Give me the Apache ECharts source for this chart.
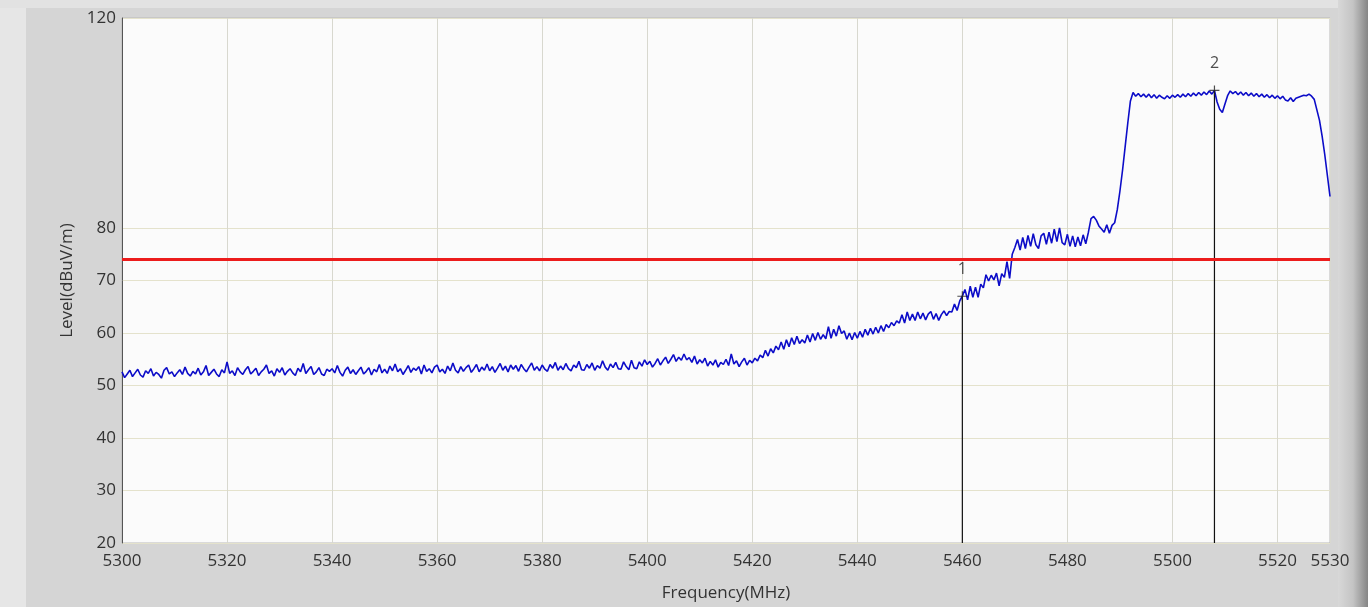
<!DOCTYPE html>
<html>
<head>
<meta charset="utf-8">
<title>Spectrum scan</title>
<script src="https://cdn.jsdelivr.net/npm/echarts@6/dist/echarts.min.js"></script>
<style>
  html, body { margin: 0; padding: 0; background: #d5d5d5; }
  #chart { width: 1368px; height: 607px; }
</style>
</head>
<body>
<div id="chart"></div>
<script>
// sweep: 5300 MHz start, 0.5 MHz step
const freqStart = 5300;
const freqStep = 0.5;

// 5300 - 5400 MHz, noise floor
const levelsFloor = [
  52.6, 51.5, 52.2, 52.9, 51.7, 52.4, 53.1, 52.0, 51.6, 52.8,
  52.3, 53.2, 51.8, 52.5, 52.1, 51.4, 52.9, 53.4, 52.2, 52.6,
  51.7, 52.4, 53.0, 52.1, 53.5, 52.3, 51.8, 52.7, 52.2, 53.3,
  52.0, 52.6, 53.8, 51.9, 52.5, 53.1, 52.2, 51.7, 53.0, 52.4,
  54.5, 52.3, 52.8, 51.9, 53.4, 52.6, 52.1, 53.0, 53.6, 52.2,
  52.7, 53.3, 51.9, 52.6, 53.1, 53.9, 52.3, 52.8, 51.8, 53.2,
  52.5, 53.4, 52.0, 52.7, 53.2, 52.4, 51.9, 53.3, 52.6, 54.2,
  52.3, 53.0, 53.6, 52.1, 52.6, 53.4, 52.2, 51.9, 53.1, 52.7,
  53.2, 52.4, 53.8, 52.5, 51.8, 52.9, 53.5, 52.3, 53.0, 52.1,
  52.8, 53.5, 52.2, 52.7, 53.4, 52.0, 53.1, 52.6, 54.0, 52.4,
  53.1, 52.3, 53.7, 52.8, 54.1, 52.6, 53.2, 52.1, 52.9, 53.8,
  52.5, 53.3, 52.9, 53.6, 52.2, 53.9, 52.7, 53.2, 52.4, 53.5,
  53.9, 52.6, 53.1, 52.3, 53.7, 52.8, 54.3, 52.9, 52.4, 53.6,
  52.7, 53.4, 53.9, 52.5, 53.2, 54.0, 52.6, 53.5, 52.9, 54.1,
  52.8, 53.6, 52.5, 53.3, 54.2, 52.9, 53.7, 52.6, 53.9, 53.1,
  53.8, 52.7, 54.0, 53.2, 52.6, 53.5, 54.3, 52.9, 53.6, 52.8,
  53.9, 53.1, 52.7, 54.0, 53.3, 54.4, 52.9, 53.7, 53.0, 54.2,
  53.2, 52.8, 53.9, 53.4, 54.6, 53.0, 52.9, 54.0, 53.3, 54.3,
  52.9, 53.8, 53.3, 54.7, 53.5, 52.9, 54.1, 53.4, 54.4, 53.2,
  53.1, 54.5, 53.6, 53.0, 54.8, 53.4, 53.2, 54.5, 53.7, 54.9,
  54.0
];

// 5400.5 - 5490 MHz, rising skirt
const levelsSkirt = [
  54.6, 53.5, 54.2, 55.1, 53.9, 54.7, 55.4, 54.2, 55.0, 55.9,
  54.6, 55.4, 54.8, 56.0, 54.9, 55.3, 54.4, 55.6, 54.1, 54.9,
  54.3, 55.2, 53.7, 54.6, 53.9, 54.9, 53.5, 54.4, 54.0, 55.0,
  53.8, 56.0, 54.1, 54.7, 53.6, 54.5, 55.2, 53.9, 54.8, 54.3,
  55.2, 54.7, 55.8, 55.3, 56.7, 55.6, 57.0, 56.2, 57.5, 56.8,
  58.3, 56.9, 58.7, 57.4, 59.1, 57.8, 59.4, 58.0, 58.7, 58.1,
  59.6, 58.3, 59.9, 58.6, 60.1, 58.8, 59.7, 58.9, 61.2, 59.0,
  60.7, 59.4, 61.4, 59.9, 60.4, 58.8, 60.0, 58.7, 60.1, 59.0,
  60.3, 59.2, 60.7, 59.6, 60.9, 59.8, 61.1, 60.0, 61.4, 60.3,
  61.6, 61.0, 62.0, 61.4, 62.3, 61.9, 63.5, 61.9, 64.0, 62.4,
  63.6, 62.4, 64.0, 62.7, 63.8, 62.5, 63.6, 64.1, 62.6, 63.7,
  62.4, 63.5, 64.2, 63.3, 64.1, 64.0, 65.5, 64.3, 66.1, 67.0,
  68.3, 66.3, 68.9, 66.8, 68.7, 66.8, 69.3, 68.6, 71.1, 69.9,
  71.0, 70.1, 71.4, 69.0, 71.3, 70.6, 73.6, 70.4, 75.0, 76.3,
  77.8, 75.8, 78.2, 76.1, 78.6, 76.5, 78.9, 76.8, 76.1, 78.5,
  79.0, 76.9, 79.2, 77.1, 79.8, 77.4, 80.0, 77.2, 76.8, 78.8,
  76.5, 78.5, 76.4, 78.3, 76.6, 78.7, 77.0, 79.2, 81.8, 82.2,
  81.5, 80.4, 79.8, 79.2, 80.6, 79.0, 80.5, 81.0, 83.5, 87.0
];

// 5490.5 - 5530 MHz, in-band carrier
const levelsBand = [
  91.0, 95.5, 100.0, 104.2, 105.8, 105.1, 105.6, 105.0, 105.5, 104.9,
  105.5, 104.8, 105.4, 104.7, 105.3, 104.9, 104.6, 105.2, 104.7, 105.3,
  104.9, 105.4, 104.9, 105.5, 105.0, 105.6, 105.1, 105.7, 105.2, 105.8,
  105.3, 105.9, 105.4, 106.1, 105.5, 106.2, 104.0, 102.6, 102.0, 103.6,
  105.2, 106.1, 105.6, 106.0, 105.4, 105.9, 105.3, 105.8, 105.2, 105.7,
  105.1, 105.6, 105.0, 105.5, 104.9, 105.4, 104.8, 105.3, 104.7, 105.2,
  104.6, 105.1, 104.4, 104.2, 104.8, 104.1, 104.7, 104.9, 105.1, 105.3,
  105.2, 105.5, 105.1, 104.5, 102.5, 100.5, 97.5, 94.0, 90.0, 86.0
];

const limitLevel = 74;
const markerNames = ['1', '2'];
const markerFreqs = [5460, 5508];
const markerLevels = [67.0, 106.2];

const xLabelValues = [5300, 5320, 5340, 5360, 5380, 5400, 5420, 5440, 5460, 5480, 5500, 5520, 5530];
const yLabelValues = [20, 30, 40, 50, 60, 70, 80, 120];

const levels = levelsFloor.concat(levelsSkirt, levelsBand);
const trace = levels.map((v, i) => [freqStart + i * freqStep, v]);

const font = '"Open Sans", "DejaVu Sans", sans-serif';
const chart = echarts.init(document.getElementById('chart'));

const markerSeries = markerNames.map((name, i) => ({
    type: 'line',
    silent: true,
    symbol: 'none',
    lineStyle: { color: '#111', width: 1.2 },
    data: [[markerFreqs[i], 20], [markerFreqs[i], markerLevels[i]]],
    z: 4
}));

const option = {
    backgroundColor: '#d5d5d5',
    animation: false,
    graphic: [
        { type: 'rect', left: 0, top: 0, shape: { width: 26, height: 607 }, style: { fill: '#e6e6e6' }, z: -10 },
        { type: 'rect', left: 0, top: 0, shape: { width: 1368, height: 8 }, style: { fill: '#e2e2e2' }, z: -10 },
        {
            type: 'rect', right: 0, top: 0, shape: { width: 30, height: 607 }, z: -10,
            style: {
                fill: new echarts.graphic.LinearGradient(0, 0, 1, 0, [
                    { offset: 0, color: '#d8d8d8' },
                    { offset: 0.5, color: '#c4c4c4' },
                    { offset: 1, color: '#858585' }
                ])
            }
        }
    ],
    grid: {
        left: 122,
        right: 38,
        top: 18,
        bottom: 62,
        show: true,
        backgroundColor: '#fbfbfb',
        borderColor: '#b8b8b8',
        borderWidth: 1
    },
    xAxis: {
        type: 'value',
        min: 5300,
        max: 5530,
        interval: 20,
        name: 'Frequency(MHz)',
        nameLocation: 'middle',
        nameGap: 42,
        nameTextStyle: { color: '#333', fontSize: 17, fontFamily: font },
        axisLine: { show: false },
        axisTick: { show: false },
        axisLabel: {
            customValues: xLabelValues,
            formatter: v => String(v),
            color: '#333',
            fontSize: 17,
            fontFamily: font,
            margin: 10
        },
        splitLine: { show: true, lineStyle: { color: '#d8d8cf', width: 1 } }
    },
    yAxis: {
        type: 'value',
        min: 20,
        max: 120,
        interval: 10,
        name: 'Level(dBuV/m)',
        nameLocation: 'middle',
        nameGap: 45,
        nameTextStyle: { color: '#333', fontSize: 17, fontFamily: font },
        axisLine: { show: true, lineStyle: { color: '#555', width: 1 } },
        axisTick: { show: false, customValues: yLabelValues },
        axisLabel: {
            customValues: yLabelValues,
            color: '#333',
            fontSize: 17,
            fontFamily: font,
            margin: 6
        },
        splitLine: { show: true, lineStyle: { color: '#e4e2cc', width: 1 } }
    },
    series: [
        {
            type: 'line',
            name: 'Level',
            data: trace,
            symbol: 'none',
            silent: true,
            lineStyle: { color: '#0c0cc8', width: 1.6 },
            z: 3
        },
        {
            type: 'line',
            name: 'Limit',
            data: [[5300, limitLevel], [5530, limitLevel]],
            symbol: 'none',
            silent: true,
            lineStyle: { color: '#ec1c1c', width: 3 },
            z: 5
        },
        ...markerSeries,
        {
            type: 'scatter',
            silent: true,
            data: markerNames.map((n, i) => ({ name: n, value: [markerFreqs[i], markerLevels[i]] })),
            symbol: 'path://M0,4.4 L10,4.4 L10,5.6 L0,5.6 Z M4.4,0 L5.6,0 L5.6,10 L4.4,10 Z',
            symbolSize: 10,
            itemStyle: { color: '#222' },
            label: {
                show: true,
                position: 'top',
                distance: 14,
                formatter: '{b}',
                color: '#222',
                fontSize: 16,
                fontFamily: font
            },
            z: 6
        }
    ]
};

chart.setOption(option);
</script>
</body>
</html>
